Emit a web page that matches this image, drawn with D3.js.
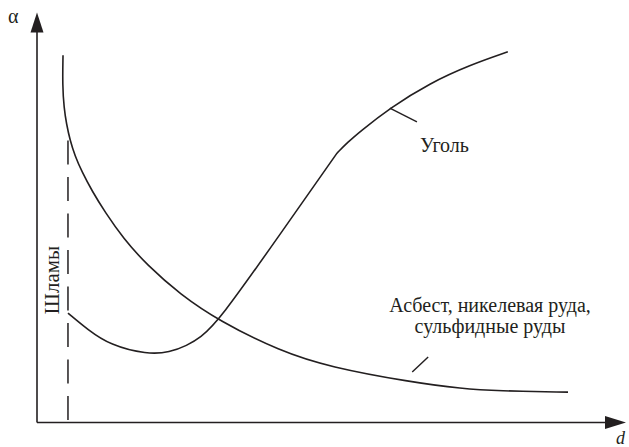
<!DOCTYPE html>
<html>
<head>
<meta charset="utf-8">
<script src="https://cdn.jsdelivr.net/npm/d3@7"></script>
<style>
  html, body { margin: 0; padding: 0; background: #fff; }
  svg { display: block; }
  svg text { font-family: "Liberation Serif", serif; }
</style>
</head>
<body>
<svg id="chart" width="629" height="447"></svg>
<script>
// Grain size d vs. coefficient α (arbitrary units, 0–10 on both axes)

// Curve for asbestos, nickel ore and sulphide ores: [d, α]
const oreD     = [0.441, 0.432, 0.458, 0.500, 0.559, 0.644, 0.763, 0.932, 1.153, 1.458, 1.864, 2.424, 3.085, 4.119, 4.966, 6.322, 7.220, 7.797, 9.000];
const oreAlpha = [8.96, 8.23, 7.67, 7.28, 6.89, 6.50, 6.11, 5.65, 5.13, 4.50, 3.84, 3.13, 2.48, 1.74, 1.35, 0.99, 0.82, 0.77, 0.74];

// Coal curve: falls in the slime zone, then rises; breaks at index coalBreak
const coalD     = [0.525, 0.864, 1.237, 1.864, 2.254, 2.542, 2.763, 3.085, 4.085, 5.085, 5.27, 5.47, 5.98, 6.66, 7.34, 7.98];
const coalAlpha = [2.67, 2.26, 1.89, 1.66, 1.71, 1.88, 2.06, 2.48, 4.52, 6.57, 6.84, 7.09, 7.67, 8.28, 8.72, 9.04];
const coalBreak = 9;

// Upper boundary of slimes (vertical dashed line)
const slimeD = 0.525;
const slimeTop = 6.88;

// Labels
const axisLabelY = "α";
const axisLabelX = "d";
const slimeLabel = "Шламы";
const coalLabel = "Уголь";
const oreLabel = ["Асбест, никелевая руда,", "сульфидные руды"];

// Leader lines [d1, α1, d2, α2]
const coalLeader = [5.98, 7.67, 6.44, 7.33];
const oreLeader  = [6.36, 1.23, 6.63, 1.60];

const ink = "#231f20";
const svg = d3.select("#chart");

const x = d3.scaleLinear().domain([0, 10]).range([37, 627]);
const y = d3.scaleLinear().domain([0, 10]).range([422.5, 12.5]);

const line = d3.line()
  .x(p => x(p[0]))
  .y(p => y(p[1]))
  .curve(d3.curveBasis);

const orePts = oreD.map((d, i) => [d, oreAlpha[i]]);
const coalPts = coalD.map((d, i) => [d, coalAlpha[i]]);

// Axes with arrowheads
svg.append("line")
  .attr("x1", x(0)).attr("y1", y(0))
  .attr("x2", x(0)).attr("y2", y(9.6))
  .attr("stroke", ink).attr("stroke-width", 1.6);
svg.append("line")
  .attr("x1", x(0)).attr("y1", y(0))
  .attr("x2", x(9.7)).attr("y2", y(0))
  .attr("stroke", ink).attr("stroke-width", 1.6);

const yTip = [x(0), y(10)];
svg.append("path")
  .attr("d", `M${yTip[0]},${yTip[1]} L${yTip[0] - 6.5},${yTip[1] + 20} L${yTip[0] + 6.5},${yTip[1] + 20} Z`)
  .attr("fill", ink);
const xTip = [x(10) - 1, y(0)];
svg.append("path")
  .attr("d", `M${xTip[0]},${xTip[1]} L${xTip[0] - 21},${xTip[1] - 6.5} L${xTip[0] - 21},${xTip[1] + 6.5} Z`)
  .attr("fill", ink);

svg.append("text")
  .attr("x", 8).attr("y", 23)
  .attr("fill", ink)
  .attr("font-size", 20)
  .text(axisLabelY);
svg.append("text")
  .attr("x", 616).attr("y", 444)
  .attr("fill", ink)
  .attr("font-size", 18)
  .attr("font-style", "italic")
  .text(axisLabelX);

// Slime boundary
svg.append("line")
  .attr("x1", x(slimeD)).attr("y1", y(slimeTop))
  .attr("x2", x(slimeD)).attr("y2", y(0))
  .attr("stroke", ink).attr("stroke-width", 1.5)
  .attr("stroke-dasharray", "24,12.5");

svg.append("text")
  .attr("transform", `translate(59,280) rotate(-90)`)
  .attr("text-anchor", "middle")
  .attr("fill", ink)
  .attr("font-size", 21)
  .text(slimeLabel);

// Curves
svg.append("path")
  .attr("d", line(orePts))
  .attr("fill", "none").attr("stroke", ink).attr("stroke-width", 1.6);

svg.append("path")
  .attr("d", line(coalPts.slice(0, coalBreak + 1)) + line(coalPts.slice(coalBreak)))
  .attr("fill", "none").attr("stroke", ink).attr("stroke-width", 1.6);

// Leader lines
[coalLeader, oreLeader].forEach(l => {
  svg.append("line")
    .attr("x1", x(l[0])).attr("y1", y(l[1]))
    .attr("x2", x(l[2])).attr("y2", y(l[3]))
    .attr("stroke", ink).attr("stroke-width", 1.4);
});

// Labels
svg.append("text")
  .attr("x", 420).attr("y", 152)
  .attr("fill", ink)
  .attr("font-size", 20)
  .text(coalLabel);

svg.append("text")
  .attr("text-anchor", "middle")
  .attr("fill", ink)
  .attr("font-size", 20)
  .selectAll("tspan")
  .data(oreLabel)
  .join("tspan")
  .attr("x", 490)
  .attr("y", (d, i) => 312 + i * 21)
  .text(d => d);
</script>
</body>
</html>
